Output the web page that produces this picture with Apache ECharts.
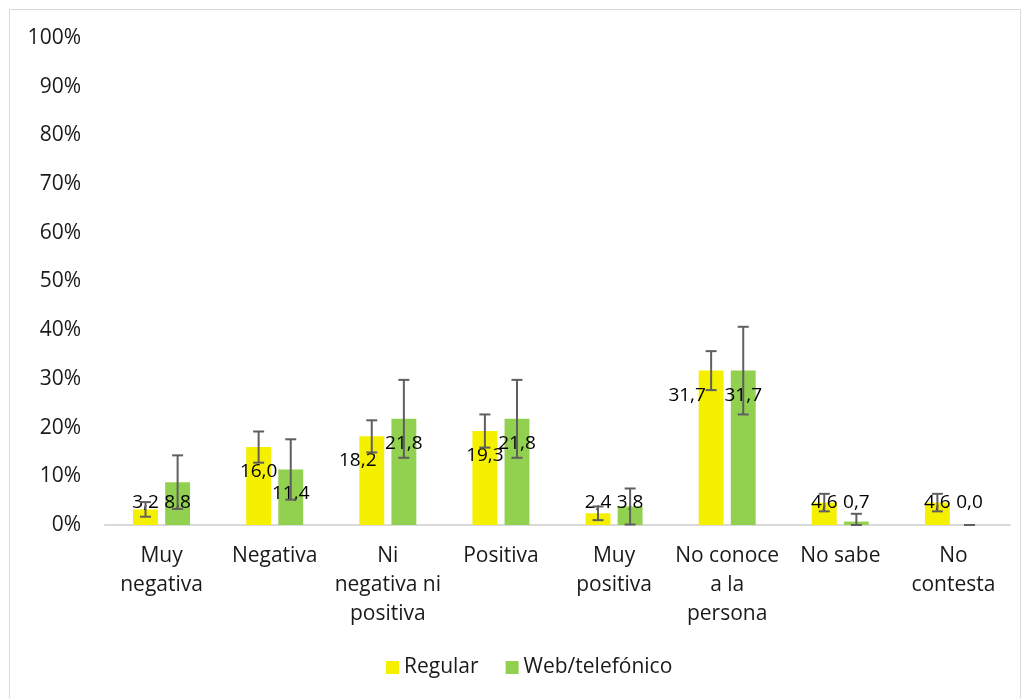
<!DOCTYPE html>
<html>
<head>
<meta charset="utf-8">
<script src="https://cdn.jsdelivr.net/npm/echarts@6/dist/echarts.min.js"></script>
<style>
  html, body { margin: 0; padding: 0; background: #fff; }
  #chart { width: 1026px; height: 698px; }
</style>
</head>
<body>
<div id="chart"></div>
<script>
const categories = ['Muy\nnegativa', 'Negativa', 'Ni\nnegativa ni\npositiva', 'Positiva',
  'Muy\npositiva', 'No conoce\na la\npersona', 'No sabe', 'No\ncontesta']
const regular = [3.2, 16.0, 18.2, 19.3, 2.4, 31.7, 4.6, 4.6]
const web = [8.8, 11.4, 21.8, 21.8, 3.8, 31.7, 0.7, 0.0]
// margen de error (+/-)
const errRegular = [1.5, 3.2, 3.3, 3.4, 1.4, 4.0, 1.8, 1.8]
const errWeb = [5.5, 6.2, 8.0, 8.0, 3.7, 9.0, 1.6, 0.0]

const FONT = '"Open Sans", sans-serif'
const BAR_W = 0.22
const BAR_GAP = 0.29
// etiquetas movidas a mano (como en el original) para que no se pisen
const regularLabelShift = { 2: -14, 5: -24 }

const fmt = v => v.toFixed(1).replace('.', ',')

// barras cortas: etiqueta sobre la base, el resto dentro del extremo
function barData (values, shifts) {
  return values.map((v, i) => ({
    value: v,
    label: Object.assign(
      v < 10
        ? { position: 'insideBottom', distance: 13 }
        : { position: 'insideTop', distance: 15 },
      { offset: [(shifts && shifts[i]) || 0, 0] }
    )
  }))
}

function errorSeries (values, errs, side) {
  return {
    type: 'custom',
    name: 'err' + side,
    silent: true,
    z: 5,
    data: values.map((v, i) => [i, v, errs[i]]),
    renderItem (params, api) {
      const band = api.size([1, 0])[0]
      const off = side * band * BAR_W * (1 + BAR_GAP) / 2
      const v = api.value(1)
      const e = api.value(2)
      const top = api.coord([api.value(0), v + e])
      const bot = api.coord([api.value(0), Math.max(0, v - e)])
      const x = top[0] + off
      const cap = 5.5
      const style = { stroke: '#5f5f5f', lineWidth: 2 }
      return {
        type: 'group',
        children: [
          { type: 'line', shape: { x1: x, y1: top[1], x2: x, y2: bot[1] }, style },
          { type: 'line', shape: { x1: x - cap, y1: top[1], x2: x + cap, y2: top[1] }, style },
          { type: 'line', shape: { x1: x - cap, y1: bot[1], x2: x + cap, y2: bot[1] }, style }
        ]
      }
    }
  }
}

const chart = echarts.init(document.getElementById('chart'))
chart.setOption({
  animation: false,
  backgroundColor: '#fff',
  textStyle: { fontFamily: FONT },
  graphic: [{
    type: 'rect',
    shape: { x: 9.5, y: 9.5, width: 1011, height: 700 },
    style: { fill: 'none', stroke: '#d9d9d9', lineWidth: 1 },
    silent: true
  }],
  grid: { left: 105, right: 16, top: 38, bottom: 173 },
  legend: {
    bottom: 15,
    left: 381,
    itemWidth: 13,
    itemHeight: 13,
    itemGap: 27,
    icon: 'rect',
    data: ['Regular', 'Web/telefónico'],
    textStyle: { fontSize: 21, color: '#1a1a1a', fontFamily: FONT }
  },
  xAxis: {
    type: 'category',
    data: categories,
    axisLine: { lineStyle: { color: '#d9d9d9', width: 2 } },
    axisTick: { show: false },
    axisLabel: {
      interval: 0,
      margin: 17,
      fontSize: 21,
      lineHeight: 29,
      color: '#1a1a1a',
      fontFamily: FONT
    }
  },
  yAxis: {
    type: 'value',
    min: 0,
    max: 100,
    interval: 10,
    splitLine: { show: false },
    axisLine: { show: false },
    axisTick: { show: false },
    axisLabel: {
      formatter: '{value}%',
      margin: 24,
      fontSize: 21,
      color: '#1a1a1a',
      fontFamily: FONT
    }
  },
  series: [
    {
      name: 'Regular',
      type: 'bar',
      data: barData(regular, regularLabelShift),
      barWidth: (BAR_W * 100) + '%',
      barGap: (BAR_GAP * 100) + '%',
      itemStyle: { color: '#f5ef00' },
      label: {
        show: true,
        fontSize: 19,
        color: '#000',
        fontFamily: FONT,
        formatter: p => fmt(p.value)
      }
    },
    {
      name: 'Web/telefónico',
      type: 'bar',
      data: barData(web),
      barWidth: (BAR_W * 100) + '%',
      barGap: (BAR_GAP * 100) + '%',
      itemStyle: { color: '#92d050' },
      label: {
        show: true,
        fontSize: 19,
        color: '#000',
        fontFamily: FONT,
        formatter: p => fmt(p.value)
      }
    },
    errorSeries(regular, errRegular, -1),
    errorSeries(web, errWeb, 1)
  ]
})
</script>
</body>
</html>
